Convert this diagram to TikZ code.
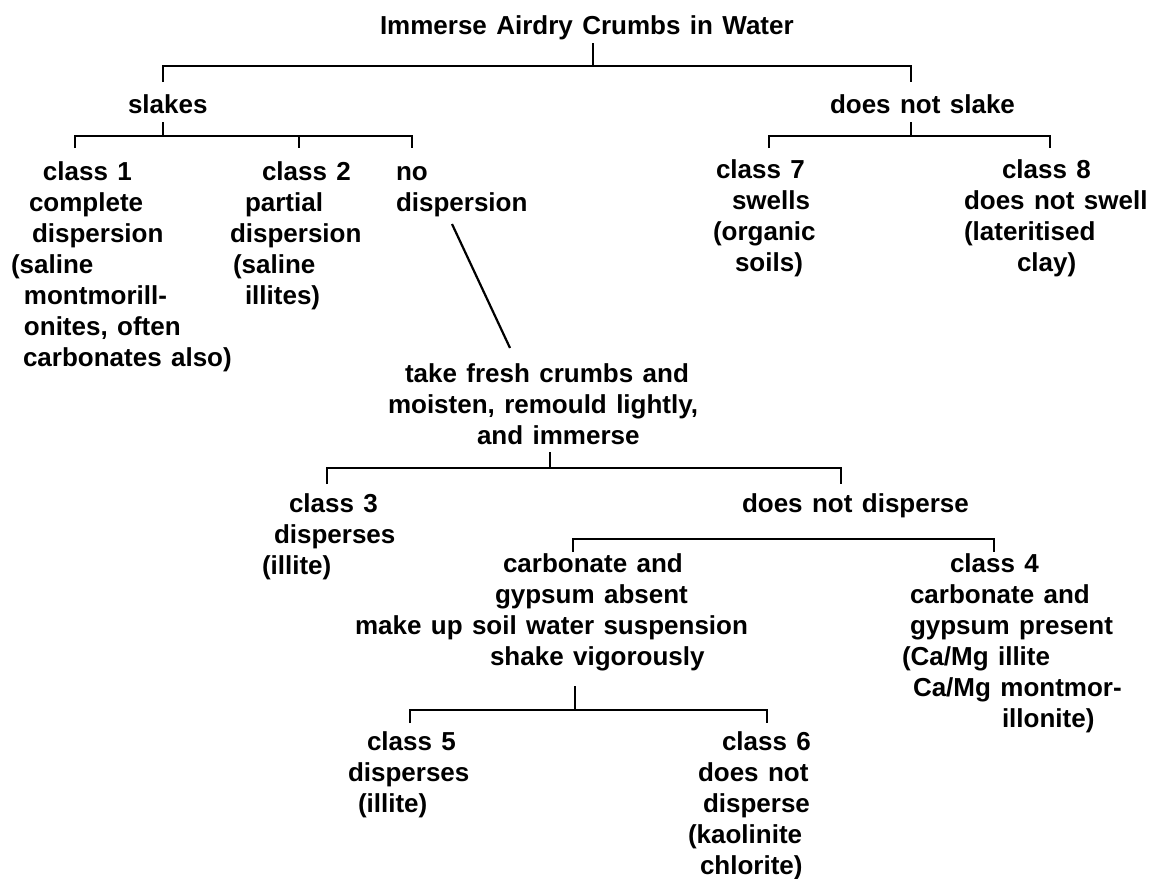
\documentclass[tikz,border=0pt]{standalone}
\usepackage{fontspec}
\newfontfamily\dfont{Liberation Sans}[WordSpace=1.3]
\tikzset{
 lbl/.style={inner sep=0pt, outer sep=0pt, font=\dfont\bfseries\fontsize{26}{31}\selectfont},
 blk/.style={lbl, align=left, anchor=north west},
 one/.style={lbl, anchor=base west},
 ln/.style={line width=2.8pt, line cap=butt, line join=miter}
}
\newcommand{\fl}{\rule{0pt}{20pt}}
\newcommand{\ind}[1]{\hspace*{#1pt}}
\begin{document}
\begin{tikzpicture}[x=1pt,y=-1pt]
\useasboundingbox (0,0) rectangle (1166,878);
% texts (block y = first baseline - 20)
\node[one] (title) at (380,34) {Immerse Airdry Crumbs in Water};
\node[one] (slakes) at (128,113) {slakes};
\node[one] (noslake) at (830,113) {does not slake};
\node[blk] (c1) at (11,160) {\fl\ind{32}class 1\\\ind{18}complete\\\ind{21}dispersion\\(saline\\\ind{13}montmorill-\\\ind{13}onites, often\\\ind{12}carbonates also)};
\node[blk] (c2) at (230,160) {\fl\ind{32}class 2\\\ind{15}partial\\dispersion\\\ind{3}(saline\\\ind{15}illites)};
\node[blk] (nod) at (396,160) {\fl no\\dispersion};
\node[blk] (c7) at (713,158) {\fl\ind{3}class 7\\\ind{19}swells\\(organic\\\ind{22}soils)};
\node[blk] (c8) at (964,158) {\fl\ind{38}class 8\\does not swell\\(lateritised\\\ind{53}clay)};
\node[blk] (fresh) at (388,362) {\fl\ind{17}take fresh crumbs and\\moisten, remould lightly,\\\ind{89}and immerse};
\node[blk] (c3) at (262,492) {\fl\ind{27}class 3\\\ind{12}disperses\\(illite)};
\node[one] (nodisp) at (742,512) {does not disperse};
\node[blk] (absent) at (355,552) {\fl\ind{148}carbonate and\\\ind{140}gypsum absent\\make up soil water suspension\\\ind{135}shake vigorously};
\node[blk] (c4) at (902,552) {\fl\ind{48}class 4\\\ind{8}carbonate and\\\ind{8}gypsum present\\(Ca/Mg illite\\\ind{11}Ca/Mg montmor-\\\ind{100}illonite)};
\node[blk] (c5) at (348,730) {\fl\ind{19}class 5\\disperses\\\ind{10}(illite)};
\node[blk] (c6) at (688,730) {\fl\ind{34}class 6\\\ind{10}does not\\\ind{15}disperse\\(kaolinite\\\ind{12}chlorite)};
% junction coordinates
\coordinate (s0) at (593,43); \coordinate (s1) at (593,66);
\coordinate (a1) at (163,82); \coordinate (a2) at (911,82);
\coordinate (b0) at (163,122); \coordinate (b1) at (163,136);
\coordinate (b2) at (75,148); \coordinate (b3) at (299,148); \coordinate (b4) at (412,148);
\coordinate (r0) at (911,122); \coordinate (r1) at (911,136);
\coordinate (r2) at (769,148); \coordinate (r3) at (1050,148);
\coordinate (d1) at (452,224); \coordinate (d2) at (510,348);
\coordinate (f0) at (550,452); \coordinate (f1) at (550,468);
\coordinate (f2) at (327,484); \coordinate (f3) at (841,484);
\coordinate (n2) at (573,552); \coordinate (n3) at (994,552); \coordinate (n1) at (840,539);
\coordinate (g0) at (575,686); \coordinate (g1) at (575,710);
\coordinate (g2) at (410,723); \coordinate (g3) at (767,723);
% connectors
\draw[ln] (s0) -- (s1);
\draw[ln] (a1) -- (a1 |- s1) -- (a2 |- s1) -- (a2);
\draw[ln] (b0) -- (b1);
\draw[ln] (b2) -- (b2 |- b1) -- (b4 |- b1) -- (b4);
\draw[ln] (b3 |- b1) -- (b3);
\draw[ln] (r0) -- (r1);
\draw[ln] (r2) -- (r2 |- r1) -- (r3 |- r1) -- (r3);
\draw[ln, line width=2.2pt] (d1) -- (d2);
\draw[ln] (f0) -- (f1);
\draw[ln] (f2) -- (f2 |- f1) -- (f3 |- f1) -- (f3);
\draw[ln] (n2) -- (n2 |- n1) -- (n3 |- n1) -- (n3);
\draw[ln] (g0) -- (g1);
\draw[ln] (g2) -- (g2 |- g1) -- (g3 |- g1) -- (g3);
\end{tikzpicture}
\end{document}
